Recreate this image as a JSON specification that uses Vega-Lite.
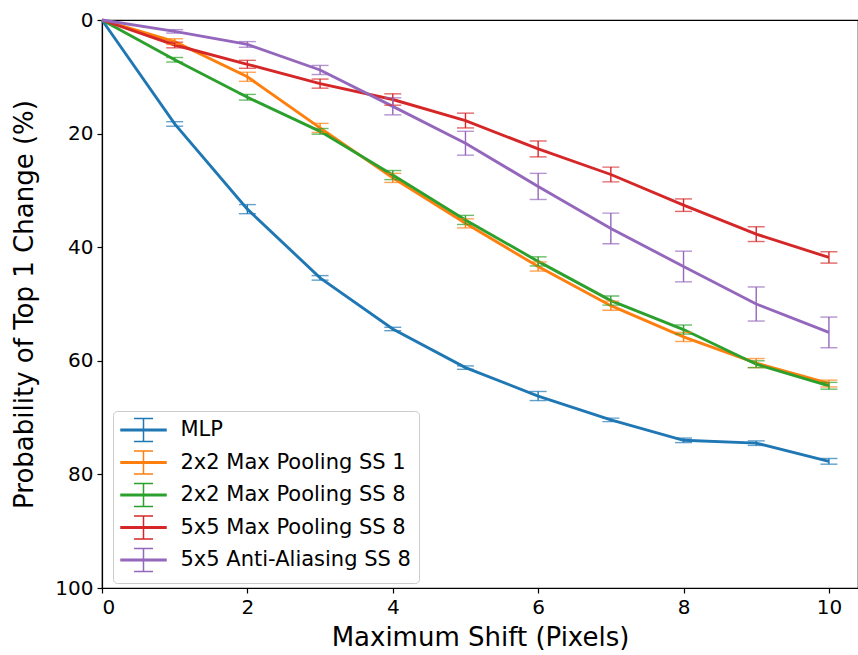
{
  "$schema": "https://vega.github.io/schema/vega-lite/v6.json",
  "width": 756,
  "height": 568,
  "autosize": {"type": "none"},
  "padding": {"left": 102, "top": 20, "right": 0, "bottom": 67},
  "background": "white",
  "config": {
    "font": "DejaVu Sans",
    "view": {"stroke": "#000000", "strokeWidth": 1.2},
    "axis": {
      "labelFont": "DejaVu Sans",
      "titleFont": "DejaVu Sans",
      "labelFontSize": 20,
      "titleFontSize": 26,
      "titleFontWeight": "normal",
      "labelColor": "#000000",
      "titleColor": "#000000",
      "domainColor": "#000000",
      "domainWidth": 1.2,
      "tickColor": "#000000",
      "tickSize": 5,
      "tickWidth": 1.2,
      "labelPadding": 4
    }
  },
  "data": {
    "values": [
      {"series": "MLP", "x": 0, "y": 0, "err": 0},
      {"series": "MLP", "x": 1, "y": 18.3, "err": 0.4},
      {"series": "MLP", "x": 2, "y": 33.3, "err": 0.8},
      {"series": "MLP", "x": 3, "y": 45.4, "err": 0.4},
      {"series": "MLP", "x": 4, "y": 54.4, "err": 0.3},
      {"series": "MLP", "x": 5, "y": 61.2, "err": 0.3},
      {"series": "MLP", "x": 6, "y": 66.2, "err": 0.8},
      {"series": "MLP", "x": 7, "y": 70.4, "err": 0.3},
      {"series": "MLP", "x": 8, "y": 74.0, "err": 0.4},
      {"series": "MLP", "x": 9, "y": 74.5, "err": 0.4},
      {"series": "MLP", "x": 10, "y": 77.7, "err": 0.5},
      {"series": "2x2 Max Pooling SS 1", "x": 0, "y": 0, "err": 0},
      {"series": "2x2 Max Pooling SS 1", "x": 1, "y": 3.8, "err": 0.5},
      {"series": "2x2 Max Pooling SS 1", "x": 2, "y": 10.0, "err": 0.8},
      {"series": "2x2 Max Pooling SS 1", "x": 3, "y": 19.0, "err": 0.8},
      {"series": "2x2 Max Pooling SS 1", "x": 4, "y": 27.8, "err": 0.8},
      {"series": "2x2 Max Pooling SS 1", "x": 5, "y": 35.8, "err": 0.8},
      {"series": "2x2 Max Pooling SS 1", "x": 6, "y": 43.4, "err": 0.8},
      {"series": "2x2 Max Pooling SS 1", "x": 7, "y": 50.3, "err": 0.8},
      {"series": "2x2 Max Pooling SS 1", "x": 8, "y": 55.8, "err": 0.8},
      {"series": "2x2 Max Pooling SS 1", "x": 9, "y": 60.4, "err": 0.8},
      {"series": "2x2 Max Pooling SS 1", "x": 10, "y": 64.0, "err": 0.6},
      {"series": "2x2 Max Pooling SS 8", "x": 0, "y": 0, "err": 0},
      {"series": "2x2 Max Pooling SS 8", "x": 1, "y": 7.0, "err": 0.4},
      {"series": "2x2 Max Pooling SS 8", "x": 2, "y": 13.6, "err": 0.5},
      {"series": "2x2 Max Pooling SS 8", "x": 3, "y": 19.6, "err": 0.5},
      {"series": "2x2 Max Pooling SS 8", "x": 4, "y": 27.3, "err": 0.8},
      {"series": "2x2 Max Pooling SS 8", "x": 5, "y": 35.2, "err": 0.8},
      {"series": "2x2 Max Pooling SS 8", "x": 6, "y": 42.5, "err": 0.8},
      {"series": "2x2 Max Pooling SS 8", "x": 7, "y": 49.4, "err": 0.8},
      {"series": "2x2 Max Pooling SS 8", "x": 8, "y": 54.5, "err": 0.8},
      {"series": "2x2 Max Pooling SS 8", "x": 9, "y": 60.6, "err": 0.6},
      {"series": "2x2 Max Pooling SS 8", "x": 10, "y": 64.4, "err": 0.6},
      {"series": "5x5 Max Pooling SS 8", "x": 0, "y": 0, "err": 0},
      {"series": "5x5 Max Pooling SS 8", "x": 1, "y": 4.4, "err": 0.5},
      {"series": "5x5 Max Pooling SS 8", "x": 2, "y": 7.8, "err": 0.7},
      {"series": "5x5 Max Pooling SS 8", "x": 3, "y": 11.2, "err": 0.8},
      {"series": "5x5 Max Pooling SS 8", "x": 4, "y": 14.0, "err": 1.0},
      {"series": "5x5 Max Pooling SS 8", "x": 5, "y": 17.7, "err": 1.3},
      {"series": "5x5 Max Pooling SS 8", "x": 6, "y": 22.7, "err": 1.4},
      {"series": "5x5 Max Pooling SS 8", "x": 7, "y": 27.2, "err": 1.3},
      {"series": "5x5 Max Pooling SS 8", "x": 8, "y": 32.6, "err": 1.1},
      {"series": "5x5 Max Pooling SS 8", "x": 9, "y": 37.7, "err": 1.3},
      {"series": "5x5 Max Pooling SS 8", "x": 10, "y": 41.8, "err": 1.0},
      {"series": "5x5 Anti-Aliasing SS 8", "x": 0, "y": 0, "err": 0},
      {"series": "5x5 Anti-Aliasing SS 8", "x": 1, "y": 2.0, "err": 0.3},
      {"series": "5x5 Anti-Aliasing SS 8", "x": 2, "y": 4.3, "err": 0.5},
      {"series": "5x5 Anti-Aliasing SS 8", "x": 3, "y": 8.8, "err": 0.8},
      {"series": "5x5 Anti-Aliasing SS 8", "x": 4, "y": 15.2, "err": 1.5},
      {"series": "5x5 Anti-Aliasing SS 8", "x": 5, "y": 21.7, "err": 2.1},
      {"series": "5x5 Anti-Aliasing SS 8", "x": 6, "y": 29.3, "err": 2.3},
      {"series": "5x5 Anti-Aliasing SS 8", "x": 7, "y": 36.7, "err": 2.7},
      {"series": "5x5 Anti-Aliasing SS 8", "x": 8, "y": 43.4, "err": 2.7},
      {"series": "5x5 Anti-Aliasing SS 8", "x": 9, "y": 50.0, "err": 3.0},
      {"series": "5x5 Anti-Aliasing SS 8", "x": 10, "y": 55.0, "err": 2.7}
    ]
  },
  "encoding": {
    "x": {
      "field": "x",
      "type": "quantitative",
      "scale": {"domain": [0, 10.4], "nice": false, "zero": false},
      "axis": {"title": "Maximum Shift (Pixels)", "values": [0, 2, 4, 6, 8, 10], "grid": false, "titlePadding": 7}
    },
    "color": {
      "field": "series",
      "type": "nominal",
      "scale": {
        "domain": ["MLP", "2x2 Max Pooling SS 1", "2x2 Max Pooling SS 8", "5x5 Max Pooling SS 8", "5x5 Anti-Aliasing SS 8"],
        "range": ["#1f77b4", "#ff7f0e", "#2ca02c", "#d62728", "#9467bd"]
      },
      "legend": {
        "title": null,
        "orient": "none",
        "legendX": 11,
        "legendY": 391,
        "fillColor": "rgba(255,255,255,0.85)",
        "strokeColor": "#cccccc",
        "cornerRadius": 4,
        "padding": 8,
        "labelFont": "DejaVu Sans",
        "labelFontSize": 21,
        "labelColor": "#000000",
        "labelLimit": 400,
        "symbolType": "M-2.25,-0.08H2.25V0.08H-2.25ZM0,-1.15V1.15M-0.95,-1.15H0.95M-0.95,1.15H0.95",
        "symbolSize": 400,
        "symbolStrokeWidth": 1.5,
        "symbolOpacity": 1,
        "symbolOffset": 11.5,
        "labelOffset": 26,
        "rowPadding": 2.5,
        "encode": {
          "symbols": {
            "update": {
              "fill": {"scale": "color", "field": "value"},
              "stroke": {"scale": "color", "field": "value"},
              "opacity": {"value": 1}
            }
          }
        }
      }
    }
  },
  "layer": [
    {
      "mark": {"type": "rule", "color": "#b0b0b0", "strokeWidth": 1},
      "data": {"values": [{"g": 20}, {"g": 40}, {"g": 60}, {"g": 80}]},
      "encoding": {
        "y": {"field": "g", "type": "quantitative", "title": "Probability of Top 1 Change (%)"},
        "color": {"value": "#b0b0b0"}
      }
    },
    {
      "mark": {"type": "line", "strokeWidth": 2.9},
      "encoding": {
        "y": {
          "field": "y",
          "type": "quantitative",
          "title": "Probability of Top 1 Change (%)",
          "scale": {"domain": [0, 100], "reverse": true, "nice": false},
          "axis": {"title": "Probability of Top 1 Change (%)", "values": [0, 20, 40, 60, 80, 100], "grid": false, "titlePadding": 17}
        }
      }
    },
    {
      "transform": [{"filter": "datum.x > 0"}],
      "mark": {"type": "errorbar", "ticks": {"size": 17, "thickness": 1.4}, "rule": {"strokeWidth": 1.4}},
      "encoding": {
        "y": {"field": "y", "type": "quantitative", "title": "Probability of Top 1 Change (%)"},
        "yError": {"field": "err"}
      }
    }
  ]
}
